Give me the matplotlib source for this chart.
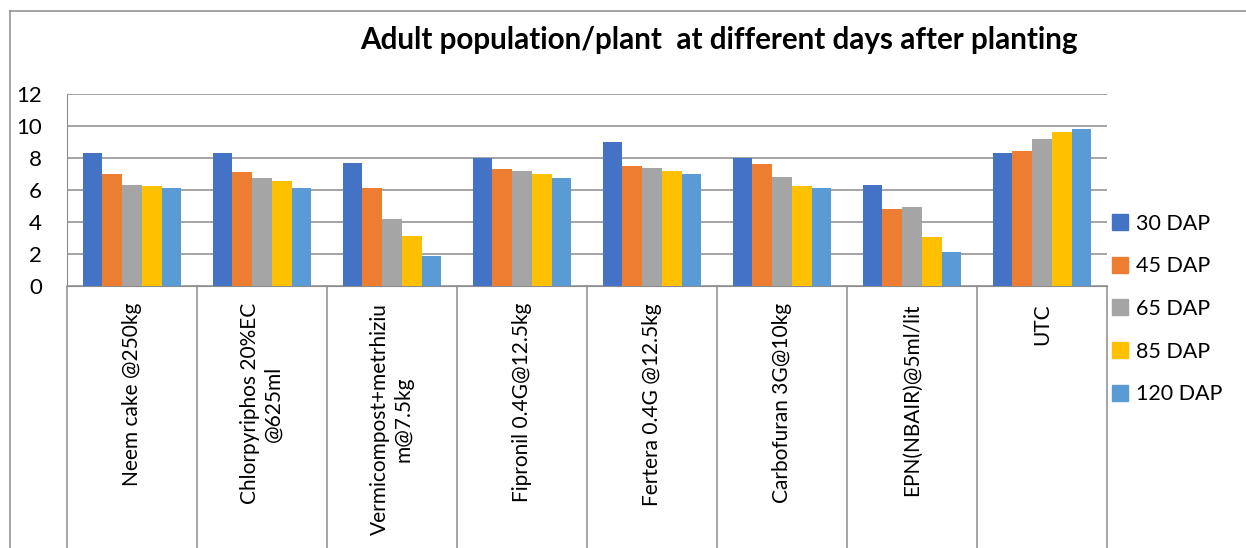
import matplotlib
matplotlib.use("Agg")
import matplotlib.pyplot as plt
import matplotlib.transforms as mtransforms
from matplotlib.lines import Line2D
import numpy as np

TREATMENTS = [
    "Neem cake @250kg",
    "Chlorpyriphos 20%EC\n@625ml",
    "Vermicompost+metrhiziu\nm@7.5kg",
    "Fipronil 0.4G@12.5kg",
    "Fertera 0.4G @12.5kg",
    "Carbofuran 3G@10kg",
    "EPN(NBAIR)@5ml/lit",
    "UTC",
]
SERIES = ["30 DAP", "45 DAP", "65 DAP", "85 DAP", "120 DAP"]

DAP_30 = [8.3, 8.3, 7.7, 8.0, 9.0, 8.0, 6.3, 8.3]
DAP_45 = [7.0, 7.1, 6.1, 7.3, 7.5, 7.6, 4.8, 8.45]
DAP_65 = [6.3, 6.75, 4.2, 7.2, 7.4, 6.8, 4.95, 9.2]
DAP_85 = [6.25, 6.55, 3.1, 7.0, 7.2, 6.25, 3.05, 9.6]
DAP_120 = [6.1, 6.15, 1.85, 6.75, 7.0, 6.1, 2.1, 9.8]

COLORS = ["#4472C4", "#ED7D31", "#A5A5A5", "#FFC000", "#5B9BD5"]
GRID = "#8c8c8c"
FONT = ["Lato", "DejaVu Sans"]

W, H = 1246, 548


def main():
    plt.rcParams["font.family"] = FONT
    fig = plt.figure(figsize=(W / 100, H / 100), dpi=100)
    ax = fig.add_axes([67 / W, 1 - 286 / H, (1107 - 67) / W, (286 - 94) / H])

    values = [DAP_30, DAP_45, DAP_65, DAP_85, DAP_120]
    x = np.arange(len(TREATMENTS))
    bw = 0.76 / len(SERIES)
    for i, (vals, color) in enumerate(zip(values, COLORS)):
        ax.bar(x + (i - 2) * bw, vals, width=bw, color=color, zorder=3)

    ax.set_xlim(-0.5, len(TREATMENTS) - 0.5)
    ax.set_ylim(0, 12)
    ax.set_yticks(range(0, 13, 2))
    ax.tick_params(axis="y", length=0, pad=18, labelsize=16)
    ax.set_xticks([])
    ax.grid(axis="y", color=GRID, linewidth=1.1, zorder=0)
    for side in ["top", "right"]:
        ax.spines[side].set_visible(False)
    ax.spines["left"].set_color(GRID)
    ax.spines["bottom"].set_color(GRID)

    # category boundaries run down through the label area
    trans = mtransforms.blended_transform_factory(ax.transData, ax.transAxes)
    y_bottom = -(H - 286) / (286 - 94)
    for k in range(len(TREATMENTS) + 1):
        ax.plot([k - 0.5, k - 0.5], [0, y_bottom], color=GRID, lw=1.1,
                transform=trans, clip_on=False)

    label_y = -(303 - 286) / (286 - 94)
    for i, name in enumerate(TREATMENTS):
        ax.text(i, label_y, name, transform=trans, rotation=90, ha="center",
                va="top", multialignment="center", fontsize=15)

    handles = [Line2D([], [], linestyle="none", marker="s", markersize=11,
                      markerfacecolor=c, markeredgecolor=c) for c in COLORS]
    fig.legend(handles, SERIES, loc="center left",
               bbox_to_anchor=(1110 / W, 1 - 309 / H), frameon=False,
               fontsize=15.5, handletextpad=0.3, labelspacing=1.05,
               borderpad=0, borderaxespad=0, handlelength=0.9)

    fig.text(719 / W, 1 - 40 / H,
             "Adult population/plant  at different days after planting",
             ha="center", va="center", fontsize=21.3, fontweight="bold")

    # outer chart frame
    fig.add_artist(Line2D([10 / W, 1], [1 - 11 / H, 1 - 11 / H],
                          color=GRID, lw=1.1, transform=fig.transFigure))
    fig.add_artist(Line2D([10 / W, 10 / W], [0, 1 - 11 / H],
                          color=GRID, lw=1.1, transform=fig.transFigure))

    fig.savefig("out.png", dpi=100)
    plt.close(fig)


if __name__ == "__main__":
    main()
